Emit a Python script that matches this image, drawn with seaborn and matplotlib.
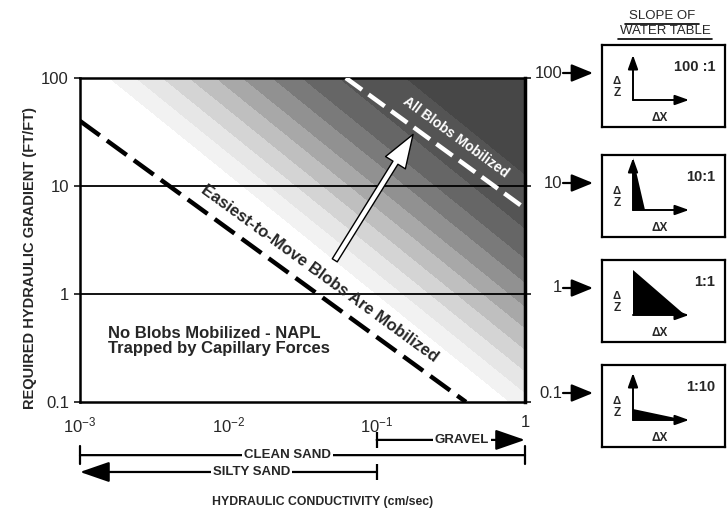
import numpy as np
import matplotlib.pyplot as plt
import seaborn as sns
from matplotlib.transforms import blended_transform_factory

# values
k_ticks = [1e-3, 1e-2, 1e-1, 1]
k_labels = ['$10^{-3}$', '$10^{-2}$', '$10^{-1}$', '1']
grad_ticks = [0.1, 1, 10, 100]
grad_labels = ['0.1', '1', '10', '100']

# dashed boundaries (conductivity cm/sec, gradient ft/ft)
easiest_k = [1e-3, 0.4]
easiest_i = [40, 0.1]
all_k = [0.062, 1.0]
all_i = [100, 6.2]

# grey bands, indexed by log10(K) + 0.9*log10(i)
shade_edges = [-5, -1.0, -0.82, -0.64, -0.46, -0.28, -0.1, 0.1, 0.3, 0.55, 1.0, 3]
shade_grays = [1.0, 0.95, 0.90, 0.83, 0.75, 0.66, 0.57, 0.48, 0.40, 0.33, 0.28]

arrow_tail = (0.051, 1.95)
arrow_head = (0.18, 31.6)

soils = ['GRAVEL', 'CLEAN SAND', 'SILTY SAND']
soil_from = [0.1, 1e-3, 0.1]
soil_to = [1.0, 1.0, 1e-3]
soil_label_k = [0.375, 0.025, 0.0143]

slope_names = ['100 :1', '10:1', '1:1', '1:10']
slope_gradient = ['100', '10', '1', '0.1']
tri_dx = [0, 12, 52, 52]
tri_dz = [45, 52, 45, 11]

sns.set_style('white')
plt.rcParams['font.family'] = ['Liberation Sans', 'DejaVu Sans']
plt.rcParams['mathtext.fontset'] = 'custom'
plt.rcParams['mathtext.rm'] = 'Liberation Sans'
plt.rcParams['mathtext.it'] = 'Liberation Sans:italic'
plt.rcParams['mathtext.bf'] = 'Liberation Sans:bold'

W, H = 728, 511
fig = plt.figure(figsize=(W / 100, H / 100), dpi=100)
ax = fig.add_axes([80 / W, 1 - 402 / H, 445 / W, 324 / H])

# shading
kk = np.logspace(-3, 0, 400)
ii = np.logspace(-1, 2, 400)
K, I = np.meshgrid(kk, ii)
S = np.log10(K) + 0.9 * np.log10(I)
ax.contourf(K, I, S, levels=shade_edges, colors=[str(g) for g in shade_grays], zorder=0)

ax.set_xscale('log')
ax.set_yscale('log')
ax.set_xlim(1e-3, 1)
ax.set_ylim(0.1, 100)

for y in [1, 10]:
    ax.axhline(y, color='black', lw=1.3, zorder=1)

sns.lineplot(x=easiest_k, y=easiest_i, ax=ax, color='black', lw=3.2, zorder=3)
ax.lines[-1].set_dashes((5.5, 2.0))
sns.lineplot(x=all_k, y=all_i, ax=ax, color='white', lw=3.2, zorder=3)
ax.lines[-1].set_dashes((4.5, 1.8))

ax.set_xticks(k_ticks)
ax.set_xticklabels(k_labels)
ax.set_yticks(grad_ticks)
ax.set_yticklabels(grad_labels)
ax.minorticks_off()
ax.tick_params(axis='x', direction='inout', length=9, width=1.3, pad=5, labelsize=12)
ax.tick_params(axis='y', direction='out', length=4, width=1.3, pad=4, labelsize=12,
               right=True, left=True)
for side, sp in ax.spines.items():
    sp.set_color('black')
    sp.set_linewidth(2.5 if side == 'right' else 1.8)

ax.annotate('', xy=arrow_head, xytext=arrow_tail, zorder=4,
            arrowprops=dict(arrowstyle='simple,head_width=1.4,head_length=2.0,tail_width=0.35',
                            mutation_scale=12, fc='white', ec='black', lw=1.0))

ax.text(0.041, 1.56, 'Easiest-to-Move Blobs Are Mobilized', rotation=-36.1,
        ha='center', va='center', fontsize=12, fontweight='bold', zorder=5)
ax.text(0.34, 28.4, 'All Blobs Mobilized', rotation=-36.1, color='white',
        ha='center', va='center', fontsize=10, fontweight='bold', zorder=5)
ax.text(0.00155, 0.37, 'No Blobs Mobilized - NAPL\nTrapped by Capillary Forces',
        ha='left', va='center', fontsize=12, fontweight='bold', linespacing=1.0, zorder=5)

# soil ranges under the axis
tr = blended_transform_factory(ax.transData, ax.transAxes)
soil_y = [-0.117, -0.164, -0.216]
for name, k0, k1, kl, y in zip(soils, soil_from, soil_to, soil_label_k, soil_y):
    style = '|-|,widthA=0.45,widthB=0.45' if name == 'CLEAN SAND' else '-|>,head_length=1.3,head_width=0.45'
    ax.annotate('', xy=(k1, y), xytext=(k0, y), xycoords=tr, textcoords=tr,
                arrowprops=dict(arrowstyle=style, mutation_scale=14, color='black',
                                lw=1.6, shrinkA=0, shrinkB=0), annotation_clip=False)
    if name != 'CLEAN SAND':
        ax.plot([k0], [y], marker='|', ms=11, mew=1.6, color='black',
                transform=tr, clip_on=False)
    ax.text(kl, y, name, transform=tr, ha='center', va='center', fontsize=9.5,
            fontweight='bold', bbox=dict(fc='white', ec='none', pad=1.5))

fig.text(323 / W, 1 - 502 / H, 'HYDRAULIC CONDUCTIVITY (cm/sec)', ha='center', va='center',
         fontsize=8.8, fontweight='bold')
fig.text(30 / W, 1 - 258 / H, 'REQUIRED HYDRAULIC GRADIENT (FT/FT)', ha='center', va='center',
         rotation=90, fontsize=10.5, fontweight='bold')

# slope of water table panels
fig.text(662 / W, 1 - 16 / H, 'SLOPE OF', ha='center', va='center', fontsize=9.5)
fig.text(665 / W, 1 - 31 / H, 'WATER TABLE', ha='center', va='center', fontsize=9.5)
fig.add_artist(plt.Line2D([625 / W, 699 / W], [1 - 24 / H, 1 - 24 / H], color='black', lw=1.2))
fig.add_artist(plt.Line2D([618 / W, 712 / W], [1 - 39 / H, 1 - 39 / H], color='black', lw=1.2))

box_tops = [45, 155, 260, 365]
for name, lbl, dx, dz, top in zip(slope_names, slope_gradient, tri_dx, tri_dz, box_tops):
    bx = fig.add_axes([602 / W, 1 - (top + 82) / H, 123 / W, 82 / H])
    bx.set_xlim(0, 123)
    bx.set_ylim(0, 82)
    bx.set_xticks([])
    bx.set_yticks([])
    bx.set_facecolor('white')
    for sp in bx.spines.values():
        sp.set_visible(True)
        sp.set_color('black')
        sp.set_linewidth(1.6)
    cx, cy = 31, 27
    if dx > 0:
        bx.fill([cx, cx, cx + dx], [cy, cy + dz, cy], color='black', lw=0)
    if dx < 40:
        bx.annotate('', xy=(cx, cy + max(dz, 45)), xytext=(cx, cy),
                    arrowprops=dict(arrowstyle='-|>,head_length=0.7,head_width=0.25',
                                    mutation_scale=12, color='black', lw=1.4,
                                    shrinkA=0, shrinkB=0))
    if dz < 20:
        bx.annotate('', xy=(cx, cy + 47), xytext=(cx, cy),
                    arrowprops=dict(arrowstyle='-|>,head_length=0.7,head_width=0.25',
                                    mutation_scale=12, color='black', lw=1.4,
                                    shrinkA=0, shrinkB=0))
    bx.annotate('', xy=(cx + 56, cy), xytext=(cx, cy),
                arrowprops=dict(arrowstyle='-|>,head_length=0.7,head_width=0.25',
                                mutation_scale=12, color='black', lw=1.4,
                                shrinkA=0, shrinkB=0))
    bx.text(cx - 16, cy + 19, '\u0394', ha='center', va='center', fontsize=8, fontweight='bold')
    bx.text(cx - 16, cy + 7, 'Z', ha='center', va='center', fontsize=8.5, fontweight='bold')
    bx.text(58, 9, '\u0394X', ha='center', va='center', fontsize=8.5, fontweight='bold')
    bx.text(113, 60, name, ha='right', va='center', fontsize=10.5, fontweight='bold')

    ya = 1 - (top + 28) / H
    fig.text(562 / W, ya, lbl, ha='right', va='center', fontsize=12)
    ax.annotate('', xy=(593 / W, ya), xytext=(563 / W, ya), xycoords='figure fraction',
                textcoords='figure fraction', annotation_clip=False,
                arrowprops=dict(arrowstyle='-|>,head_length=1.1,head_width=0.45',
                                mutation_scale=12, color='black', lw=1.6,
                                shrinkA=0, shrinkB=0))

fig.savefig('out.png', dpi=100)
